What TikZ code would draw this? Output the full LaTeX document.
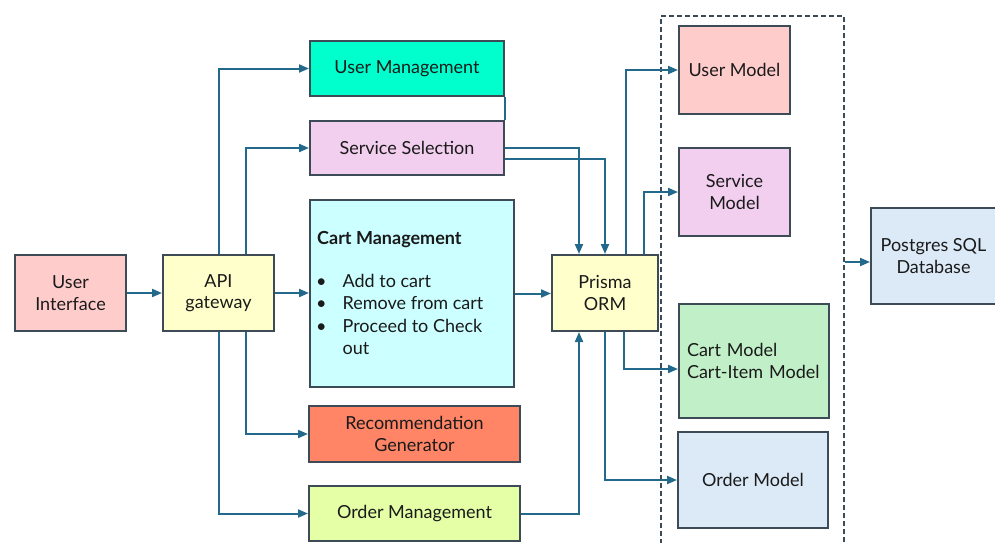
\documentclass[tikz,border=0pt]{standalone}
\usepackage{fontspec}
\setmainfont{Lato}
\usetikzlibrary{arrows.meta,calc}
\definecolor{boxline}{HTML}{3D4B57}
\definecolor{linkc}{HTML}{22698C}
\definecolor{txt}{HTML}{1A1A1A}
\definecolor{cPink}{HTML}{FFCCCC}
\definecolor{cYellow}{HTML}{FFFFCC}
\definecolor{cTeal}{HTML}{00FFCC}
\definecolor{cLilac}{HTML}{F2CEEF}
\definecolor{cCyan}{HTML}{CCFFFF}
\definecolor{cCoral}{HTML}{FF8566}
\definecolor{cLime}{HTML}{E4FFA6}
\definecolor{cGreen}{HTML}{C1F0C8}
\definecolor{cBlue}{HTML}{DCEAF7}
\begin{document}
\begin{tikzpicture}[x=1pt,y=-1pt,
  box/.style={draw=boxline, line width=2pt, anchor=north west, inner sep=0pt,
    align=center, text=txt, font=\fontsize{18}{21.5}\selectfont},
  link/.style={draw=linkc, line width=2pt, -{Triangle[length=10pt,width=8pt]}},
  plain/.style={draw=linkc, line width=2pt},
  group/.style={draw=boxline, line width=1.8pt, dash pattern=on 5pt off 3pt,
    anchor=north west, inner sep=0pt}]
\useasboundingbox (0,0) rectangle (995,542);

% dashed frame around the data models
\node[group, minimum width=183pt, minimum height=535pt] (grp) at (660,15) {};

% boxes
\node[box, fill=cPink,   minimum width=111pt, minimum height=76pt] (ui) at (14,254) {User\\Interface};
\node[box, fill=cYellow, minimum width=111pt, minimum height=76pt] (api) at (162,254) {API\\gateway};
\node[box, fill=cTeal,   minimum width=194pt, minimum height=55pt] (um) at (309,40) {User Management};
\node[box, fill=cLilac,  minimum width=194pt, minimum height=54pt] (ss) at (309,120) {Service Selection};
\node[box, fill=cCyan,   minimum width=204pt, minimum height=187pt] (cart) at (309,199) {};
\node[box, fill=cCoral,  minimum width=211pt, minimum height=56pt] (rg) at (308,405) {Recommendation\\Generator};
\node[box, fill=cLime,   minimum width=211pt, minimum height=55pt] (om) at (308,485) {Order Management};
\node[box, fill=cYellow, minimum width=106pt, minimum height=76pt] (prisma) at (551,254) {Prisma\\ORM};
\node[box, fill=cPink,   minimum width=111pt, minimum height=88pt] (umod) at (678,25) {User Model};
\node[box, fill=cLilac,  minimum width=111pt, minimum height=88pt] (smod) at (678,147) {Service\\Model};
\node[box, fill=cGreen,  minimum width=150pt, minimum height=114pt, align=left,
      text width=134pt, inner xsep=8pt] (cmod) at (678,303) {Cart Model\\Cart-Item Model};
\node[box, fill=cBlue,   minimum width=150pt, minimum height=96pt] (omod) at (677,431) {Order Model};
\node[box, fill=cBlue,   minimum width=125pt, minimum height=96pt] (pg) at (870,207) {Postgres SQL\\Database};

% cart management contents
\node[anchor=base west, inner sep=0pt, text=txt, font=\fontsize{18}{21.5}\selectfont\bfseries]
  (carttitle) at (317,244) {Cart Management};
\node[anchor=north west, inner sep=0pt, align=left, text=txt, font=\fontsize{18}{22.6}\selectfont]
  (cartitems) at (316,271) {\begin{tabular}{@{}l@{\hspace{16pt}}l@{}}
    \textbullet & Add to cart\\
    \textbullet & Remove from cart\\
    \textbullet & Proceed to Check\\
                & out
  \end{tabular}};

% entry points of the offset connectors
\coordinate (pgin) at ([yshift=-6pt]pg.west);
\coordinate (cmodin) at ([yshift=-8pt]cmod.west);

% connectors
\draw[link] (ui.east) -- (api.west);
\draw[link] (api.east) -- (cart.west |- api.east);
\draw[link] (api.north) |- (um.west);
\draw[link] ([xshift=27pt]api.north) |- (ss.west);
\draw[link] ([xshift=27pt]api.south) |- (rg.west);
\draw[link] (api.south) |- (om.west);
\draw[plain] (um.south east) -- (ss.north east);
\draw[link] (ss.east) -| ([xshift=-26pt]prisma.north);
\draw[link] ([yshift=-11pt]ss.east) -| (prisma.north);
\draw[link] (cart.east) -- (prisma.west |- cart.east);
\draw[link] (om.east) -| ([xshift=-26pt]prisma.south);
\draw[link] ([xshift=21pt]prisma.north) |- (umod.west);
\draw[link] ([xshift=39pt]prisma.north) |- (smod.west);
\draw[link] ([xshift=19pt]prisma.south) |- (cmodin);
\draw[link] (prisma.south) |- (omod.west);
\draw[link] (grp.east |- pgin) -- (pgin);
\end{tikzpicture}
\end{document}
